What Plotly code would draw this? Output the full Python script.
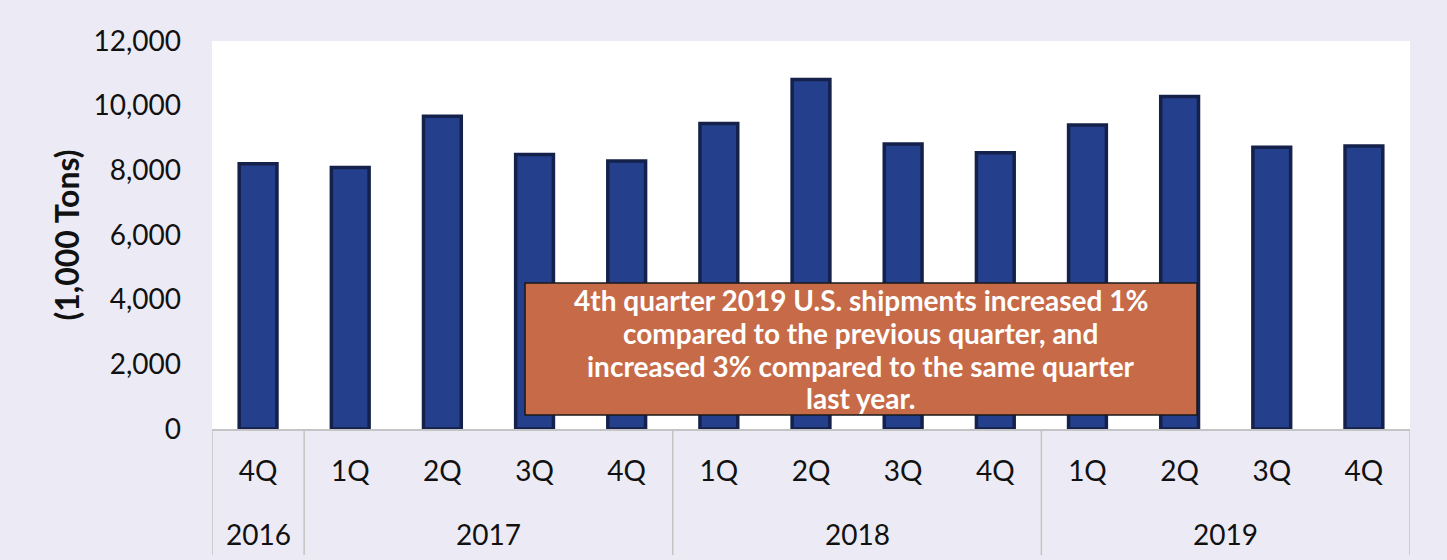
import plotly.graph_objects as go

quarters = ["4Q", "1Q", "2Q", "3Q", "4Q", "1Q", "2Q", "3Q", "4Q", "1Q", "2Q", "3Q", "4Q"]
years = ["2016", "2017", "2018", "2019"]
quarters_per_year = [1, 4, 4, 4]
shipments = [8200, 8090, 9670, 8490, 8290, 9450, 10810, 8815, 8540, 9400, 10280, 8715, 8755]

note_lines = [
    "4th quarter 2019 U.S. shipments increased 1%",
    "compared to the previous quarter, and",
    "increased 3% compared to the same quarter",
    "last year.",
]

FONT = "Lato"
BG = "#ECEBF5"
idx = list(range(len(quarters)))

fig = go.Figure()
fig.add_trace(go.Bar(
    x=idx,
    y=shipments,
    width=0.41,
    marker=dict(color="#243F8C", line=dict(color="#14214A", width=3.5)),
    showlegend=False,
))

shapes = []
annotations = []
# group dividers and year labels
start = 0
bounds = [-0.5]
for yr, n in zip(years, quarters_per_year):
    end = start + n
    bounds.append(end - 0.5)
    annotations.append(dict(
        xref="x", yref="paper", x=(start + end - 1) / 2, y=-0.271,
        text=yr, showarrow=False, yanchor="middle",
        font=dict(family=FONT, size=28, color="#111111"),
    ))
    start = end
for b in bounds:
    shapes.append(dict(
        type="line", xref="x", yref="paper", x0=b, x1=b, y0=0, y1=-0.325,
        line=dict(color="#C4C4C4", width=1.5), layer="above",
    ))

# note box
shapes.append(dict(
    type="rect", xref="paper", yref="paper",
    x0=0.2613, x1=0.8222, y0=0.036, y1=0.376,
    fillcolor="#C76A47", line=dict(color="#1A1A1A", width=1.5), layer="above",
))
line_y = [0.3325, 0.2474, 0.1624, 0.0799]
for t, yy in zip(note_lines, line_y):
    annotations.append(dict(
        xref="paper", yref="paper", x=0.5417, y=yy,
        text="<b>" + t + "</b>", showarrow=False, yanchor="middle",
        font=dict(family=FONT, size=28, color="#FFFFFF"),
    ))

fig.update_layout(
    width=1447, height=560,
    paper_bgcolor=BG,
    plot_bgcolor="#FFFFFF",
    margin=dict(l=212, r=37, t=41, b=131),
    font=dict(family=FONT, color="#111111"),
    xaxis=dict(
        range=[-0.5, 12.5],
        tickvals=idx,
        ticktext=quarters,
        tickfont=dict(size=28, color="#111111"),
        ticklabelstandoff=17,
        showline=True, linecolor="#C4C4C4", linewidth=1.5,
        showgrid=False, zeroline=False, ticks="",
        automargin=False,
    ),
    yaxis=dict(
        range=[0, 12000],
        tickvals=[0, 2000, 4000, 6000, 8000, 10000, 12000],
        tickformat=",d",
        showgrid=False,
        zeroline=False,
        tickfont=dict(size=28, color="#111111"),
        ticklabelstandoff=30,
        automargin=False,
        title=dict(text="<b>(1,000 Tons)</b>", font=dict(size=32, color="#111111"), standoff=4),
    ),
    shapes=shapes,
    annotations=annotations,
)

fig.write_html(
    "out.html",
    config={"displayModeBar": False},
    post_script="document.body.style.margin='0';document.body.style.background='%s';" % BG,
)
